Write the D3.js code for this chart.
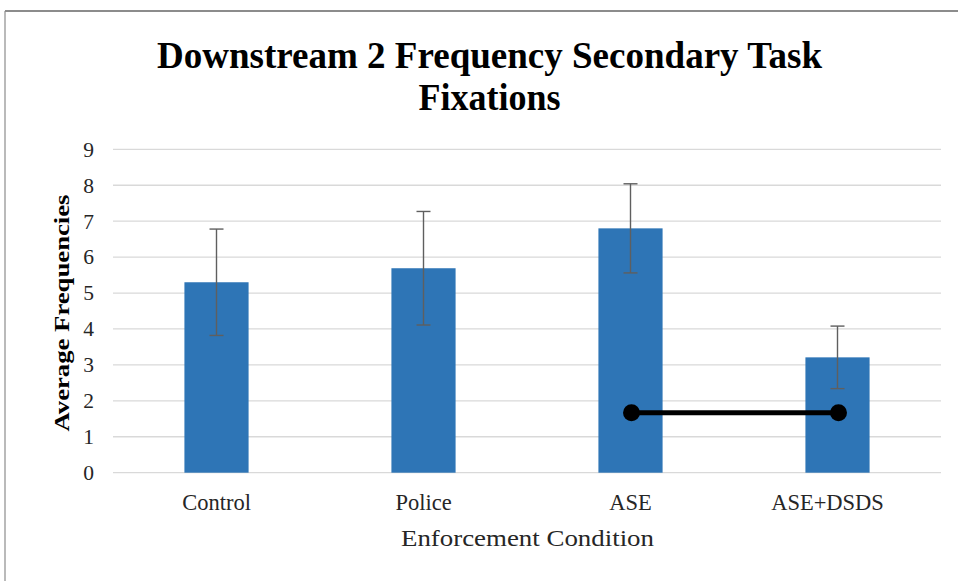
<!DOCTYPE html>
<html><head><meta charset="utf-8">
<script src="https://cdn.jsdelivr.net/npm/d3@7"></script>
<style>html,body{margin:0;padding:0;background:#fff;}svg{display:block;}</style>
</head><body>
<svg id="chart" width="958" height="581"></svg>
<script>
const categories = ["Control", "Police", "ASE", "ASE+DSDS"];
const means = [5.30, 5.69, 6.80, 3.21];
const errors = [1.48, 1.58, 1.24, 0.87];
const yTicks = [0, 1, 2, 3, 4, 5, 6, 7, 8, 9];
const sigPair = ["ASE", "ASE+DSDS"];
const sigLevel = 1.67;
const titleLines = ["Downstream  2 Frequency Secondary Task", "Fixations"];
const yTitle = "Average Frequencies";
const xTitle = "Enforcement Condition";

(function () {
const svg = d3.select("#chart");
const serif = "'Liberation Serif','Times New Roman',serif";

// frame
svg.append("line").attr("x1",5).attr("x2",958).attr("y1",11).attr("y2",11).attr("stroke","#8c8c8c").attr("stroke-width",2);
svg.append("line").attr("x1",5).attr("x2",5).attr("y1",11).attr("y2",581).attr("stroke","#8c8c8c").attr("stroke-width",1.2);

const pLeft = 113, pRight = 941, pTop = 149.3, pBottom = 472.7;
const x = d3.scaleBand().domain(categories).range([pLeft, pRight]).paddingInner(0.69).paddingOuter(0.345);
const y = d3.scaleLinear().domain([0, 9]).range([pBottom, pTop]);

// grid
svg.append("g").selectAll("line").data(yTicks).join("line")
  .attr("x1", pLeft).attr("x2", pRight)
  .attr("y1", d => y(d)).attr("y2", d => y(d))
  .attr("stroke", "#d9d9d9").attr("stroke-width", 1.3);

// y axis labels
const yAxis = d3.axisLeft(y).tickValues(yTicks).tickSize(0).tickPadding(0).tickFormat(d3.format("d"));
const gy = svg.append("g").attr("transform", `translate(94,0)`).call(yAxis);
gy.select(".domain").remove();
gy.selectAll("text").attr("font-family", serif).attr("font-size", 21.5).attr("fill", "#262626");

// bars
svg.append("g").selectAll("rect").data(categories).join("rect")
  .attr("x", d => x(d)).attr("width", x.bandwidth())
  .attr("y", (d,i) => y(means[i])).attr("height", (d,i) => y(0) - y(means[i]))
  .attr("fill", "#2E75B6");

// error bars
const eg = svg.append("g").attr("stroke", "#5f5f5f").attr("stroke-width", 1.4);
categories.forEach((c, i) => {
  const cx = x(c) + x.bandwidth()/2;
  eg.append("line").attr("x1", cx).attr("x2", cx).attr("y1", y(means[i]+errors[i])).attr("y2", y(means[i]-errors[i]));
  eg.append("line").attr("x1", cx-7).attr("x2", cx+7).attr("y1", y(means[i]+errors[i])).attr("y2", y(means[i]+errors[i]));
  eg.append("line").attr("x1", cx-7).attr("x2", cx+7).attr("y1", y(means[i]-errors[i])).attr("y2", y(means[i]-errors[i]));
});

// significance connector
const sx = sigPair.map(c => x(c) + x.bandwidth()/2 + 1);
svg.append("line").attr("x1", sx[0]).attr("x2", sx[1]).attr("y1", y(sigLevel)).attr("y2", y(sigLevel))
  .attr("stroke", "#000").attr("stroke-width", 5);
svg.append("g").selectAll("circle").data(sx).join("circle")
  .attr("cx", d => d).attr("cy", y(sigLevel)).attr("r", 8.5).attr("fill", "#000");

// x axis labels
const xAxis = d3.axisBottom(x).tickSize(0).tickPadding(0);
const gx = svg.append("g").attr("transform", `translate(0,510)`).call(xAxis);
gx.select(".domain").remove();
gx.selectAll("text").attr("font-family", serif).attr("font-size", 22.5).attr("fill", "#262626")
  .attr("y", 0).attr("dy", "0").attr("dx", d => d === "ASE+DSDS" ? -10 : 0);

// axis titles
svg.append("text").attr("x", 527.5).attr("y", 546).attr("text-anchor", "middle")
  .attr("font-family", serif).attr("font-size", 24).attr("fill", "#262626")
  .attr("textLength", 253).attr("lengthAdjust", "spacingAndGlyphs").text(xTitle);
svg.append("text").attr("transform", "translate(69,313) rotate(-90)").attr("text-anchor", "middle")
  .attr("font-family", serif).attr("font-size", 22).attr("font-weight", "bold").attr("fill", "#000")
  .attr("textLength", 237).attr("lengthAdjust", "spacingAndGlyphs").text(yTitle);

// title
const tl = [[titleLines[0], 68, 665], [titleLines[1], 110, 142]];
tl.forEach(([t, yy, w]) => {
  svg.append("text").attr("x", 489.5).attr("y", yy).attr("text-anchor", "middle")
    .attr("font-family", serif).attr("font-size", 38).attr("font-weight", "bold").attr("fill", "#000")
    .attr("textLength", w).attr("lengthAdjust", "spacingAndGlyphs").text(t);
});
})();
</script>
</body></html>
